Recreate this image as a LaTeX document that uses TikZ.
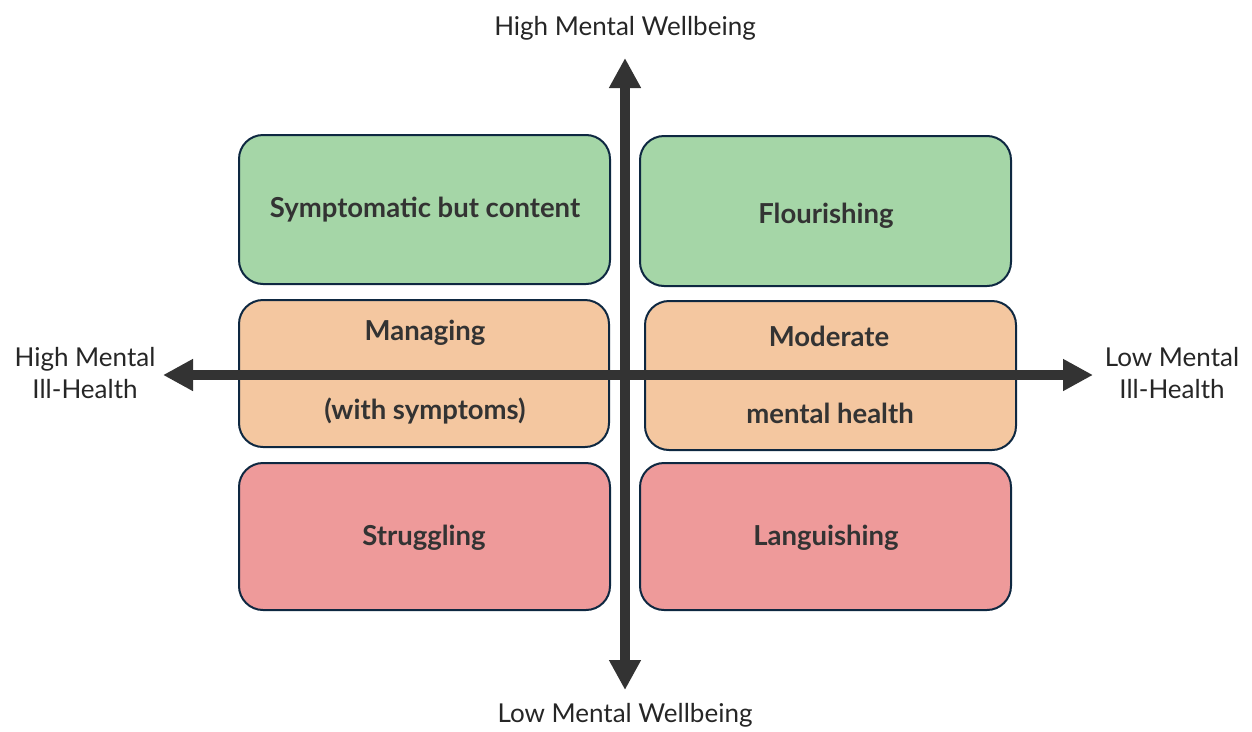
\documentclass[tikz,border=0pt]{standalone}
\usepackage{fontspec}
\setmainfont{Lato}
\usetikzlibrary{arrows.meta}
\definecolor{boxgreen}{HTML}{A5D6A7}
\definecolor{boxorange}{HTML}{F4C7A0}
\definecolor{boxred}{HTML}{EE9A9A}
\definecolor{boxline}{HTML}{0E2841}
\definecolor{ink}{HTML}{333333}
\tikzset{
  quad/.style={draw=boxline, line width=2pt, rounded corners=24pt, inner sep=0pt},
  boxtext/.style={text=ink, font=\fontsize{27.5}{30}\selectfont\bfseries, inner sep=0pt},
  axislabel/.style={text=black!85, font=\fontsize{26}{32}\selectfont, align=center, inner sep=0pt},
  axis/.style={draw=ink, line width=10pt, -{Triangle[length=30pt,width=30pt]}}
}
\begin{document}
\begin{tikzpicture}[x=1pt, y=-1pt]
\useasboundingbox (0,0) rectangle (1252,731);
% quadrant boxes
\draw[quad, fill=boxgreen]  (239,135) rectangle (610,284);
\draw[quad, fill=boxgreen]  (640,136) rectangle (1011,286);
\draw[quad, fill=boxorange] (239,300) rectangle (609,447);
\draw[quad, fill=boxorange] (645,301) rectangle (1016,450);
\draw[quad, fill=boxred]    (239,463) rectangle (610,610);
\draw[quad, fill=boxred]    (640,463) rectangle (1011,610);
% box captions
\node[boxtext] (sbc) at (425,210) {Symptomatic but content};
\node[boxtext] (flo) at (826,216) {Flourishing};
\node[boxtext] (man) at (425,333) {Managing};
\node[boxtext] (wsy) at (425,411) {(with symptoms)};
\node[boxtext] (mod) at (829,336) {Moderate};
\node[boxtext] (mhe) at (830,413) {mental health};
\node[boxtext] (str) at (424,538) {Struggling};
\node[boxtext] (lan) at (826,538) {Languishing};
% axes
\coordinate (c) at (625,375);
\coordinate (top) at (625,58);
\coordinate (bot) at (625,690);
\coordinate (lft) at (163,375);
\coordinate (rgt) at (1093,375);
\draw[axis] (c) -- (top);
\draw[axis] (c) -- (bot);
\draw[axis] (c) -- (lft);
\draw[axis] (c) -- (rgt);
% axis labels
\node[axislabel] (hw) at (625,28) {High Mental Wellbeing};
\node[axislabel] (lw) at (625,715) {Low Mental Wellbeing};
\node[axislabel] (hi) at (85,373) {High Mental\\Ill-Health};
\node[axislabel] (li) at (1172,373) {Low Mental\\Ill-Health};
\end{tikzpicture}
\end{document}
